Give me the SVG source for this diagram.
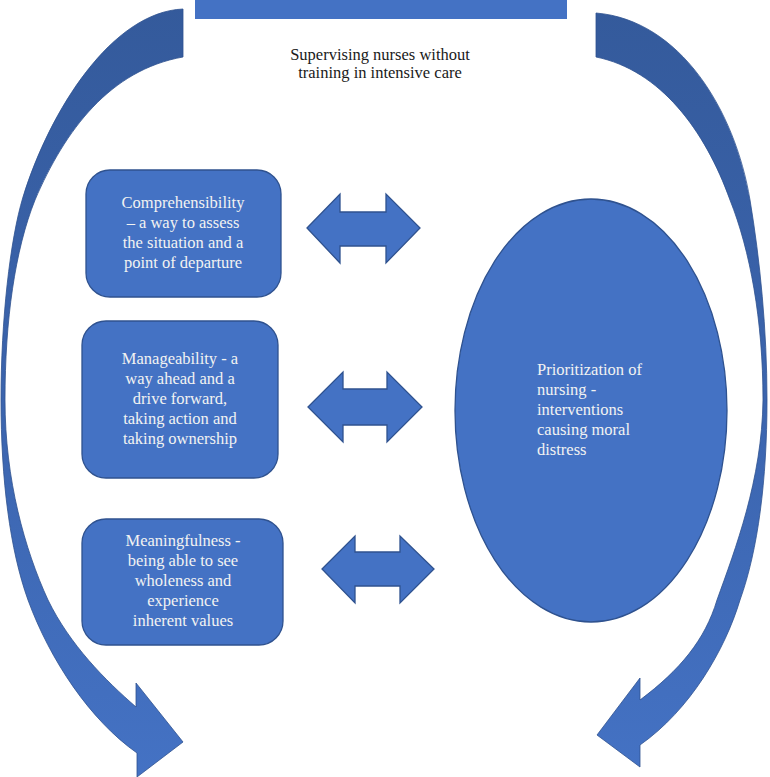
<svg xmlns="http://www.w3.org/2000/svg" width="770" height="777" viewBox="0 0 770 777">
<defs>
<linearGradient id="curveGrad" gradientUnits="userSpaceOnUse" x1="0" y1="0" x2="0" y2="777">
<stop offset="0" stop-color="#345a9b"/>
<stop offset="0.5" stop-color="#3b64ad"/>
<stop offset="1" stop-color="#4472c4"/>
</linearGradient>
<style>
.shape{fill:#4472c4;stroke:#2f528f;stroke-width:1.3}
.curve{fill:url(#curveGrad);stroke:#2f528f;stroke-width:0.8}
.lbl{font-family:"Liberation Serif","Times New Roman",serif;font-size:16.5px;fill:#f2f2f2}
.dark{font-family:"Liberation Serif","Times New Roman",serif;font-size:16.5px;fill:#1a1a1a}
</style>
</defs>
<rect x="0" y="0" width="770" height="777" fill="#ffffff"/>

<g id="top-bar">
<rect x="195" y="0" width="372" height="19" fill="#4472c4"/>
</g>

<g id="supervising">
<text class="dark" text-anchor="middle"><tspan x="380" y="60">Supervising nurses without</tspan><tspan x="380" y="78">training in intensive care</tspan></text>
</g>

<g id="connectors">
<path id="curve-left" class="curve" d="M183,9 C112,12 50,110 23,197 C10,240 1,320 1,400 C1,480 10,550 28,600 C50,660 90,720 137,753 L137,777 L183,742 L136,683 L136,707 C105,680 70,645 48,600 C25,550 5,480 5,400 C5,320 15,250 35,200 C65,130 110,70 183,57 Z"/>
<path id="curve-right" class="curve" d="M596,13 C680,20 735,110 750,200 C760,260 767,330 767,400 C767,480 758,550 740,600 C725,650 690,710 640,745 L640,767 L597,735 L640,678 L640,700 C680,670 705,640 717,600 C735,550 762,480 763,400 C763,320 750,250 730,200 C705,130 660,70 596,57 Z"/>
<polygon id="dbl-1" class="shape" points="307,228 340,194 340,212 386,212 386,194 420,228 386,263 386,246 340,246 340,263"/>
<polygon id="dbl-2" class="shape" points="308,407 343,372 343,389 387,389 387,372 422,407 387,442 387,425 343,425 343,442"/>
<polygon id="dbl-3" class="shape" points="322,569 355,536 355,552 400,552 400,536 434,569 400,603 400,586 355,586 355,603"/>
</g>

<g id="comprehensibility">
<rect class="shape" x="86" y="170" width="195" height="127" rx="24" ry="24"/>
<text class="lbl" text-anchor="middle"><tspan x="183" y="208">Comprehensibility</tspan><tspan x="183" y="228">– a way to assess</tspan><tspan x="183" y="248">the situation and a</tspan><tspan x="183" y="268">point of departure</tspan></text>
</g>

<g id="manageability">
<rect class="shape" x="82" y="321" width="196" height="157" rx="24" ry="24"/>
<text class="lbl" text-anchor="middle"><tspan x="180" y="364">Manageability - a</tspan><tspan x="180" y="384">way ahead and a</tspan><tspan x="180" y="404">drive forward,</tspan><tspan x="180" y="424">taking action and</tspan><tspan x="180" y="444">taking ownership</tspan></text>
</g>

<g id="meaningfulness">
<rect class="shape" x="82" y="519" width="201" height="126" rx="24" ry="24"/>
<text class="lbl" text-anchor="middle"><tspan x="183" y="546">Meaningfulness -</tspan><tspan x="183" y="566">being able to see</tspan><tspan x="183" y="586">wholeness and</tspan><tspan x="183" y="606">experience</tspan><tspan x="183" y="626">inherent values</tspan></text>
</g>

<g id="prioritization">
<ellipse class="shape" cx="591" cy="410.5" rx="136" ry="211.5"/>
<text class="lbl"><tspan x="537" y="375">Prioritization of</tspan><tspan x="537" y="395">nursing -</tspan><tspan x="537" y="415">interventions</tspan><tspan x="537" y="435">causing moral</tspan><tspan x="537" y="455">distress</tspan></text>
</g>
</svg>
